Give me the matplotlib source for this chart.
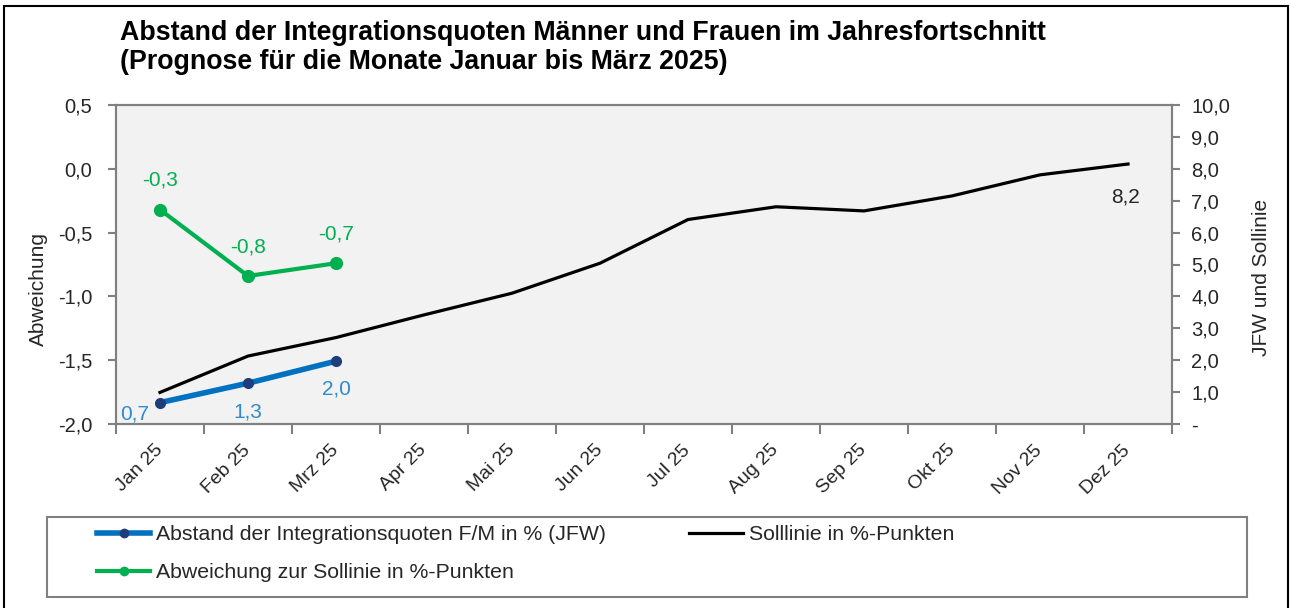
import numpy as np
import matplotlib
matplotlib.use('Agg')
import matplotlib.pyplot as plt
from matplotlib.patches import Rectangle
from matplotlib.lines import Line2D

plt.rcParams['font.family'] = ['Liberation Sans', 'DejaVu Sans']

# ------------------------------------------------------------------
# Daten
# ------------------------------------------------------------------
monate = ['Jan 25', 'Feb 25', 'Mrz 25', 'Apr 25', 'Mai 25', 'Jun 25',
          'Jul 25', 'Aug 25', 'Sep 25', 'Okt 25', 'Nov 25', 'Dez 25']
# Abstand der Integrationsquoten F/M in % (JFW) -> rechte Achse
jfw = [0.67, 1.28, 1.97]
# Sollinie in %-Punkten -> rechte Achse
sollinie = [0.99, 2.13, 2.71, 3.42, 4.10, 5.04, 6.41, 6.81, 6.68, 7.15, 7.81, 8.15]
# Abweichung zur Sollinie in %-Punkten -> linke Achse
abweichung = [-0.32, -0.84, -0.74]

ticks_links = [-2.0, -1.5, -1.0, -0.5, 0.0, 0.5]
ticks_rechts = [0, 1, 2, 3, 4, 5, 6, 7, 8, 9, 10]

# Farben
blau = '#0070C0'
blau_punkt = '#1F3D7A'
blau_text = '#2F8AD0'
gruen = '#00B050'
grau = '#808080'
text_farbe = '#262626'


def de(v):
    return f'{v:.1f}'.replace('.', ',')


W, H = 1291, 608
fig = plt.figure(figsize=(W / 100, H / 100), dpi=100)
ax = fig.add_axes([116 / W, 1 - 424 / H, (1172 - 116) / W, (424 - 105) / H])
ax2 = ax.twinx()

x = np.arange(len(monate))

# --- Linien ---
ax2.plot(x, sollinie, color='black', lw=2.3, solid_joinstyle='round', zorder=2)
ax2.plot(x[:len(jfw)], jfw, color=blau, lw=4.0, marker='o', ms=7,
         mfc=blau_punkt, mec=blau_punkt, solid_capstyle='round', zorder=3)
ax.plot(x[:len(abweichung)], abweichung, color=gruen, lw=3.0, marker='o', ms=8.5,
        mfc=gruen, mec=gruen)

# --- Datenbeschriftungen ---
for i, v in enumerate(abweichung):
    ax.annotate(de(v), xy=(i, v), xytext=(0, 21), textcoords='offset points',
                ha='center', va='center', color=gruen, fontsize=15)
for (i, v), off in zip(enumerate(jfw), [(-18, -8), (0, -21), (0, -20)]):
    ax2.annotate(de(v), xy=(i, v), xytext=off, textcoords='offset points',
                 ha='center', va='center', color=blau_text, fontsize=15)
ax2.annotate(de(sollinie[-1]), xy=(len(sollinie) - 1, sollinie[-1]), xytext=(-2, -24),
             textcoords='offset points', ha='center', va='center',
             color=text_farbe, fontsize=15)

# --- Achsen ---
ax.set_xlim(-0.5, len(monate) - 0.5)
ax.set_ylim(-2.0, 0.5)
ax2.set_ylim(0, 10)
ax.set_facecolor('#F2F2F2')

ax.set_xticks(x)
ax.set_xticklabels(monate, rotation=45, ha='right', va='center',
                   rotation_mode='anchor', fontsize=14, color=text_farbe)
ax.set_xticks(np.arange(-0.5, len(monate), 1), minor=True)
ax.tick_params(axis='x', which='major', length=0, pad=17)
ax.tick_params(axis='x', which='minor', length=7, width=1.5, color=grau)

ax.set_yticks(ticks_links)
ax.set_yticklabels([de(t) for t in ticks_links])
ax.tick_params(axis='y', length=6, width=1.5, color=grau, labelsize=14.5,
               labelcolor=text_farbe, pad=11)
ax2.set_yticks(ticks_rechts)
ax2.set_yticklabels(['-' if t == 0 else de(t) for t in ticks_rechts])
ax2.tick_params(axis='y', length=6, width=1.5, color=grau, labelsize=14.5,
                labelcolor=text_farbe, pad=8)

for a in (ax, ax2):
    for s in a.spines.values():
        s.set_color(grau)
        s.set_linewidth(1.5)

ax.set_ylabel('Abweichung', fontsize=15, color=text_farbe)
ax.yaxis.set_label_coords(-0.064, 0.423)
ax2.set_ylabel('JFW und Sollinie', fontsize=15, color=text_farbe, rotation=90)
ax2.yaxis.set_label_coords(1.076, 0.46)

# --- Titel ---
fig.text(120 / W, 1 - 40 / H,
         'Abstand der Integrationsquoten Männer und Frauen im Jahresfortschnitt',
         ha='left', va='baseline', fontsize=19.3, fontweight='bold')
fig.text(120 / W, 1 - 69 / H,
         '(Prognose für die Monate Januar bis März 2025)',
         ha='left', va='baseline', fontsize=19.3, fontweight='bold')

# --- Legende ---
h_blau = Line2D([], [], color=blau, lw=4.0, marker='o', ms=6, mfc=blau_punkt, mec=blau_punkt)
h_gruen = Line2D([], [], color=gruen, lw=3.0, marker='o', ms=6, mfc=gruen, mec=gruen)
h_schwarz = Line2D([], [], color='black', lw=2.3)
fig.legend([h_blau, h_gruen, h_schwarz],
           ['Abstand der Integrationsquoten F/M in % (JFW)',
            'Abweichung zur Sollinie in %-Punkten',
            'Solllinie in %-Punkten'],
           ncol=2, loc='upper left', bbox_to_anchor=(97 / W, 1 - 525 / H),
           frameon=False, fontsize=15.3, handlelength=2.5, handletextpad=0.3,
           columnspacing=3.9, labelspacing=0.9, borderpad=0, borderaxespad=0,
           labelcolor=text_farbe)
fig.patches.append(Rectangle((47 / W, 1 - 597 / H), 1200 / W, 80 / H,
                             transform=fig.transFigure, fill=False,
                             ec=grau, lw=1.5))

# --- Rahmen ---
fig.patches.append(Rectangle((4 / W, -0.05), 1284 / W, 1.05 - 6 / H,
                             transform=fig.transFigure, fill=False,
                             ec='black', lw=1.5))

fig.savefig('out.png', dpi=100)
